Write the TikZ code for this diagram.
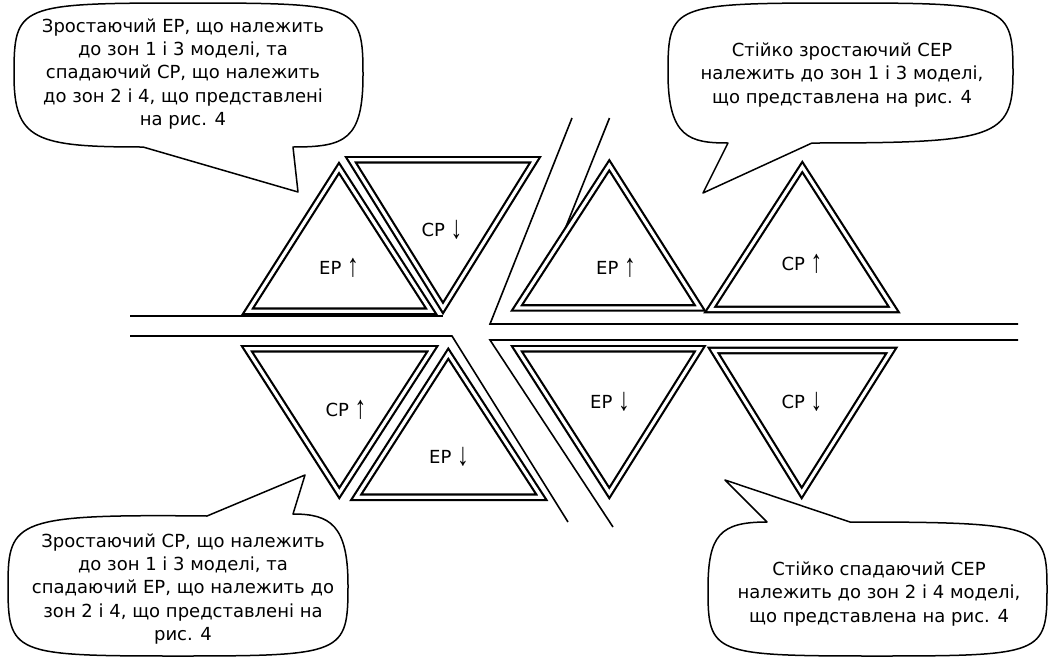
\documentclass[tikz,border=0pt]{standalone}
\usepackage{fontspec}
\usepackage{graphicx}
\setmainfont{DejaVu Sans}
\newfontfamily\arw{Liberation Sans}
\newcommand{\upar}{\raisebox{-2.5pt}{\scalebox{1.3}[1.8]{\arw↑}}}
\newcommand{\dnar}{\raisebox{-2.5pt}{\scalebox{1.3}[1.8]{\arw↓}}}
\begin{document}
\begin{tikzpicture}[x=1pt,y=-1pt,
  tri/.style={draw=black, line width=2.2pt, double=white, double distance=3.2pt, fill=white, line join=miter},
  band/.style={draw=black, line width=1.6pt, line join=miter},
  bub/.style={draw=black, line width=1.5pt, fill=white, line join=round},
  txt/.style={align=center, font=\fontsize{18}{23.3}\selectfont, inner sep=0pt},
  lab/.style={font=\fontsize{18}{22}\selectfont, inner sep=0pt}]
\useasboundingbox (0,0) rectangle (1050,659);
% separating bands
\coordinate (l1a) at (130,316); \coordinate (l1b) at (443,316);
\coordinate (l2a) at (130,336); \coordinate (l2b) at (452,336); \coordinate (l2c) at (568,522);
\coordinate (l3a) at (1018,324); \coordinate (l3b) at (490,324); \coordinate (l3c) at (572,118);
\coordinate (l4a) at (1018,340); \coordinate (l4b) at (490,340); \coordinate (l4c) at (613,527);
\coordinate (l5a) at (609.5,118); \coordinate (l5b) at (548.6,270);
\draw[band] (l1a) -- (l1b);
\draw[band] (l2a) -- (l2b) -- (l2c);
\draw[band] (l3a) -- (l3b) -- (l3c);
\draw[band] (l4a) -- (l4b) -- (l4c);
\draw[band] (l5a) -- (l5b);
% triangles
\draw[tri] (339,168) -- (247.9,311.2) -- (431.1,311.2) -- cycle;
\draw[tri] (350.9,159.8) -- (535.1,159.8) -- (443,308) -- cycle;
\draw[tri] (609.3,165.3) -- (516.9,307.9) -- (699.8,307.9) -- cycle;
\draw[tri] (802.3,167) -- (710.2,309.5) -- (893.8,309.5) -- cycle;
\draw[tri] (246.9,348.8) -- (432.4,348.8) -- (339.3,493) -- cycle;
\draw[tri] (448.3,353.7) -- (356.2,497.2) -- (541.4,497.2) -- cycle;
\draw[tri] (516.9,348.8) -- (699.8,348.8) -- (609.3,493) -- cycle;
\draw[tri] (713.6,350.5) -- (891.4,350.5) -- (801.7,493) -- cycle;
% labels
\node[lab] (t1) at (339,268) {ЕР \upar};
\node[lab] (t2) at (442,230) {СР \dnar};
\node[lab] (t3) at (616,268) {ЕР \upar};
\node[lab] (t4) at (802,264) {СР \upar};
\node[lab] (t5) at (346,410) {СР \upar};
\node[lab] (t6) at (449,457) {ЕР \dnar};
\node[lab] (t7) at (610,402) {ЕР \dnar};
\node[lab] (t8) at (802,402) {СР \dnar};
% callouts
\draw[bub] (14,75) .. controls (14,5) and (18,3) .. (188,3) .. controls (358,3) and (363,5) .. (363,75)
  .. controls (363,140) and (345,147) .. (293,147) -- (298,192) -- (143,147)
  .. controls (35,147) and (14,140) .. (14,75) -- cycle;
\draw[bub] (668,73) .. controls (668,5) and (672,3) .. (840,3) .. controls (1008,3) and (1013,5) .. (1013,73)
  .. controls (1013,138) and (995,143) .. (812,143) -- (703,193) -- (728,143)
  .. controls (690,143) and (668,138) .. (668,73) -- cycle;
\draw[bub] (8,585) .. controls (8,520) and (16,514) .. (207,516) -- (305,475) -- (293,514)
  .. controls (330,514) and (348,525) .. (348,585) .. controls (348,654) and (344,656) .. (178,656)
  .. controls (12,656) and (8,654) .. (8,585) -- cycle;
\draw[bub] (708,589) .. controls (708,535) and (720,522) .. (767,522) -- (725,480) -- (850,522)
  .. controls (1042,522) and (1047,526) .. (1047,589) .. controls (1047,654) and (1042,656) .. (877,656)
  .. controls (712,656) and (708,654) .. (708,589) -- cycle;
\node[txt] (c1) at (183,74) {Зростаючий ЕР, що належить\\до зон 1 і 3 моделі, та\\спадаючий СР, що належить\\до зон 2 і 4, що представлені\\на рис. 4};
\node[txt] (c2) at (842,75) {Стійко зростаючий СЕР\\належить до зон 1 і 3 моделі,\\що представлена на рис. 4};
\node[txt] (c3) at (183,589) {Зростаючий СР, що належить\\до зон 1 і 3 моделі, та\\спадаючий ЕР, що належить до\\зон 2 і 4, що представлені на\\рис. 4};
\node[txt] (c4) at (879,594) {Стійко спадаючий СЕР\\належить до зон 2 і 4 моделі,\\що представлена на рис. 4};
\end{tikzpicture}
\end{document}
